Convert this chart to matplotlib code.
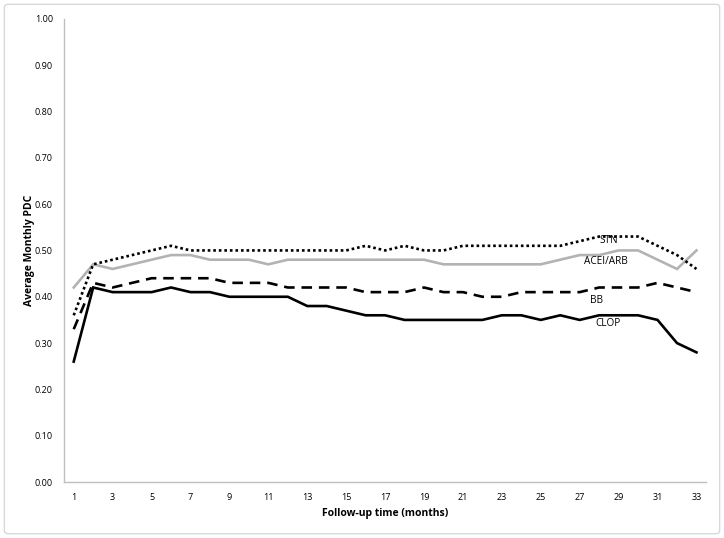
import matplotlib
matplotlib.use("Agg")
import matplotlib.pyplot as plt
from matplotlib.patches import FancyBboxPatch
import numpy as np

months = list(range(1, 34))

clop = [0.26, 0.42, 0.41, 0.41, 0.41, 0.42, 0.41, 0.41, 0.40, 0.40, 0.40,
        0.40, 0.38, 0.38, 0.37, 0.36, 0.36, 0.35, 0.35, 0.35, 0.35, 0.35,
        0.36, 0.36, 0.35, 0.36, 0.35, 0.36, 0.36, 0.36, 0.35, 0.30, 0.28]
bb = [0.33, 0.43, 0.42, 0.43, 0.44, 0.44, 0.44, 0.44, 0.43, 0.43, 0.43,
      0.42, 0.42, 0.42, 0.42, 0.41, 0.41, 0.41, 0.42, 0.41, 0.41, 0.40,
      0.40, 0.41, 0.41, 0.41, 0.41, 0.42, 0.42, 0.42, 0.43, 0.42, 0.41]
stn = [0.36, 0.47, 0.48, 0.49, 0.50, 0.51, 0.50, 0.50, 0.50, 0.50, 0.50,
       0.50, 0.50, 0.50, 0.50, 0.51, 0.50, 0.51, 0.50, 0.50, 0.51, 0.51,
       0.51, 0.51, 0.51, 0.51, 0.52, 0.53, 0.53, 0.53, 0.51, 0.49, 0.46]
acei = [0.42, 0.47, 0.46, 0.47, 0.48, 0.49, 0.49, 0.48, 0.48, 0.48, 0.47,
        0.48, 0.48, 0.48, 0.48, 0.48, 0.48, 0.48, 0.48, 0.47, 0.47, 0.47,
        0.47, 0.47, 0.47, 0.48, 0.49, 0.49, 0.50, 0.50, 0.48, 0.46, 0.50]

# label positions (month, value)
labels = [("STN", 28.47, 0.521), ("ACEI/ARB", 28.37, 0.477),
          ("BB", 27.85, 0.391), ("CLOP", 28.47, 0.343)]

plt.rcParams['font.family'] = ['Open Sans', 'DejaVu Sans']

fig = plt.figure(figsize=(7.24, 5.38), dpi=100)
ax = fig.add_axes([0.0884, 0.104, 0.887, 0.861])

ax.plot(months, acei, color='#b3b3b3', lw=1.9, solid_joinstyle='miter')
ax.plot(months, stn, color='black', lw=1.9, linestyle=(0, (1, 1.1)))
ax.plot(months, bb, color='black', lw=1.9, linestyle=(0, (4, 2.6)))
ax.plot(months, clop, color='black', lw=1.9, solid_joinstyle='miter')

for txt, x, y in labels:
    ax.text(x, y, txt, fontsize=7.2, ha='center', va='center')

ax.set_xlim(0.5, 33.5)
ax.set_ylim(0, 1.0)
ax.set_xticks(months[::2])
ax.set_xticklabels([str(m) for m in months[::2]], fontsize=6.5)
ax.set_yticks(np.arange(0, 1.01, 0.1))
ax.set_yticklabels([f"{v:.2f}" for v in np.arange(0, 1.01, 0.1)], fontsize=6.5)
ax.tick_params(length=0, pad=8)
for s in ['top', 'right']:
    ax.spines[s].set_visible(False)
for s in ['left', 'bottom']:
    ax.spines[s].set_color('#bfbfbf')
    ax.spines[s].set_linewidth(1)

ax.set_xlabel('Follow-up time (months)', fontsize=7.5, fontweight='bold', labelpad=4)
ax.set_ylabel('Average Monthly PDC', fontsize=7.5, fontweight='bold', labelpad=0)

border = FancyBboxPatch((0.006, 0.008), 0.988, 0.984, boxstyle="round,pad=0,rounding_size=0.006",
                        transform=fig.transFigure, fill=False, edgecolor='#d9d9d9', lw=1)
fig.patches.append(border)

fig.savefig('out.png', dpi=100)
